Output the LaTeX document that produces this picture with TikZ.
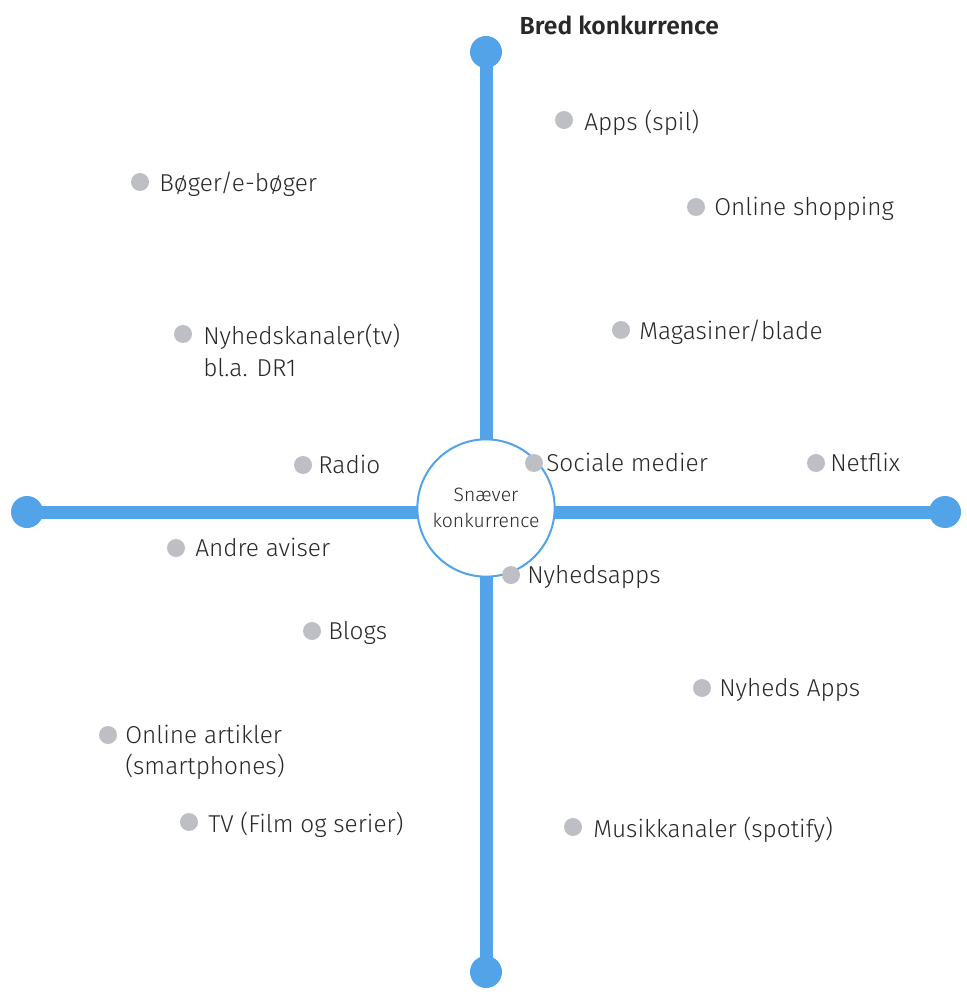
\documentclass[tikz,border=0pt]{standalone}
\usepackage{fontspec}
\setmainfont{Fira Sans Light}[BoldFont={Fira Sans SemiBold}]
\usetikzlibrary{positioning}
\definecolor{axisblue}{RGB}{82,163,232}
\definecolor{dotgrey}{RGB}{190,191,196}
\definecolor{textgrey}{RGB}{40,40,40}
\tikzset{
  axis/.style={draw=axisblue,line width=9.75pt},
  dot/.style={circle,fill=dotgrey,minimum size=13.5pt,inner sep=0pt},
  item/.style={text=textgrey,align=left,anchor=north west,inner sep=0pt,
    font=\fontsize{18.3}{23.5}\selectfont}
}
\begin{document}
\begin{tikzpicture}[x=0.75pt,y=-0.75pt]
\useasboundingbox (0,0) rectangle (966,994);
% axes
\coordinate (top) at (486,52);
\coordinate (bottom) at (486,972);
\coordinate (left) at (27,512);
\coordinate (right) at (945,512);
\draw[axis] (top) -- (bottom);
\draw[axis] (left) -- (right);
 \foreach \p in {top,bottom,left,right}
    \fill[axisblue] (\p) circle (12pt);
\node[circle,draw=axisblue,fill=white,line width=1.5pt,minimum size=103pt,
  align=center,text=textgrey,font=\fontsize{14.5}{19}\selectfont] (core) at (486,508) {Snæver\\konkurrence};
\node[anchor=west,text=textgrey,font=\fontsize{18.5}{22}\selectfont\bfseries] (title) at (515,25) {Bred konkurrence};
% items
 \foreach \n/\x/\y/\tx/\t in {
    apps/564/120/584/{Apps (spil)},
    boeger/140/182/159/{Bøger/e-bøger},
    shop/696/207/714/{Online shopping},
    tvnews/183/334/203/{Nyhedskanaler(tv)\\bl.a. DR1},
    mags/621/330/639/{Magasiner/blade},
    radio/303/465/318/{Radio},
    social/534/463/546/{Sociale medier},
    netflix/816/463/830/{Netflix},
    aviser/176/548/195/{Andre aviser},
    newsapps/511/575/527/{Nyhedsapps},
    blogs/312/631/328/{Blogs},
    nyapps/702/688/719/{Nyheds Apps},
    artikler/108/735/125/{Online artikler\\(smartphones)},
    tv/189/822/208/{TV (Film og serier)},
    musik/573/827/593/{Musikkanaler (spotify)}}
 {
    \node[dot] (\n) at (\x,\y) {};
    \node[item] (\n-txt) at ([yshift=7.5pt]\tx,\y) {\t};
 }
\end{tikzpicture}
\end{document}
